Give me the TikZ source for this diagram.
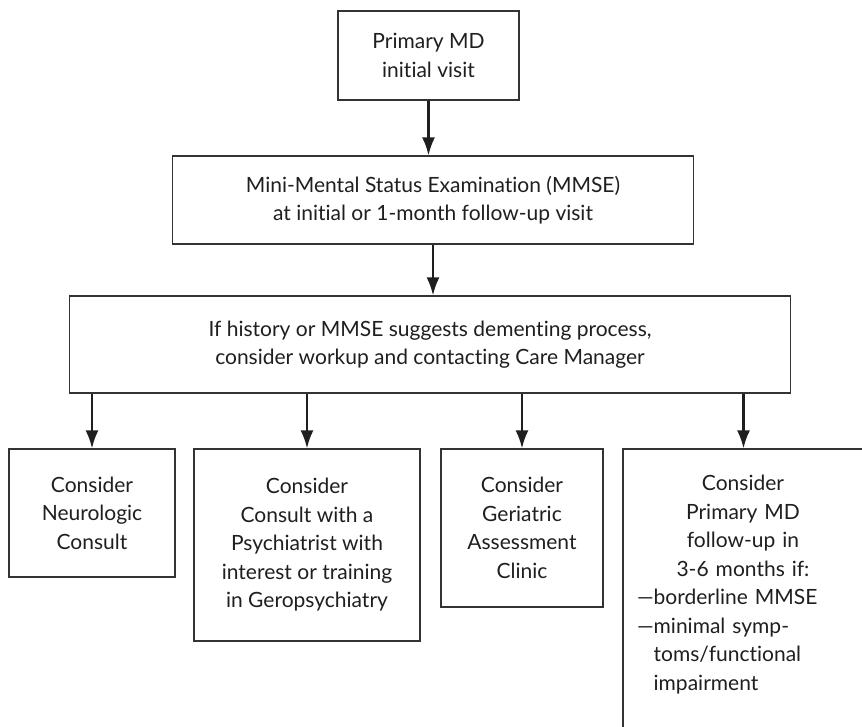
\documentclass[tikz,border=0pt]{standalone}
\usepackage{fontspec}
\setmainfont{Lato}[Ligatures=NoCommon]
\usetikzlibrary{arrows.meta}

\begin{document}
\begin{tikzpicture}[x=1pt, y=-1pt,
  box/.style={draw=black!80, line width=1.2pt, rectangle, align=center,
    inner sep=0pt, font=\fontsize{21}{28.5}\selectfont, text=black!88},
  arrow/.style={draw=black!88, line width=2.3pt, -{Latex[length=18pt,width=13pt]}}]
  \useasboundingbox[fill=white] (0,0) rectangle (862,727);
  \node[box, minimum width=181pt, minimum height=89pt] (visit) at (428.5,55.5) {Primary MD\\initial visit};
  \node[box, minimum width=521pt, minimum height=88pt] (mmse) at (433,200) {Mini-Mental Status Examination (MMSE)\\at initial or 1-month follow-up visit};
  \node[box, minimum width=721pt, minimum height=97pt] (workup) at (430,344.5) {If history or MMSE suggests dementing process,\\consider workup and contacting Care Manager};
  \node[box, minimum width=166pt, minimum height=128pt] (neuro) at (92,513) {Consider\\Neurologic\\Consult};
  \node[box, minimum width=226pt, minimum height=192pt] (psych) at (307,545) {Consider\\Consult with a\\Psychiatrist with\\interest or training\\in Geropsychiatry};
  \node[box, minimum width=162pt, minimum height=158pt] (geri) at (522,528) {Consider\\Geriatric\\Assessment\\Clinic};
  \node[box, minimum width=241pt, minimum height=311pt] (followup) at (743.5,604.5) {};
  \node[anchor=north, inner sep=0pt, text width=212pt, font=\fontsize{21}{28.5}\selectfont, text=black!88] (followuptext) at (743,475)
    {\centering Consider\\Primary MD\\follow-up in\\3-6 months if:\par
     \raggedright ---borderline MMSE\\---minimal symp-\\\phantom{---}toms/functional\\\phantom{---}impairment\par};

  \draw[arrow] (visit.south) -- (visit.south |- mmse.north);
  \draw[arrow] (mmse.south) -- (mmse.south |- workup.north);
  \draw[arrow] (neuro.north |- workup.south) -- (neuro.north);
  \draw[arrow] (psych.north |- workup.south) -- (psych.north);
  \draw[arrow] (geri.north |- workup.south) -- (geri.north);
  \draw[arrow] (followup.north |- workup.south) -- (followup.north);
\end{tikzpicture}
\end{document}
